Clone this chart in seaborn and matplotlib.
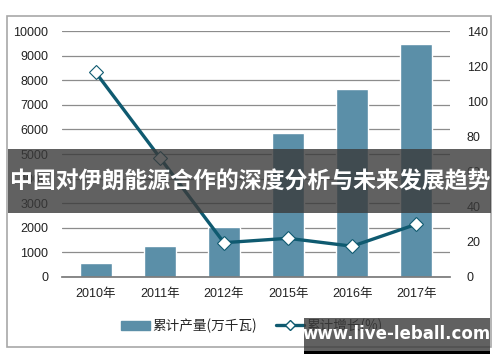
import matplotlib
matplotlib.use("Agg")
import matplotlib.pyplot as plt
import matplotlib.patches as mpatches
from matplotlib.lines import Line2D
import numpy as np
import seaborn as sns

years = ["2010年", "2011年", "2012年", "2015年", "2016年", "2017年"]
capacity = [580, 1270, 2030, 5850, 7640, 9460]   # 累计产量(万千瓦)
growth = [116.5, 68, 19.5, 22, 17.5, 30]         # 累计增长(%)
left_ticks = list(range(0, 10001, 1000))
right_ticks = list(range(0, 141, 20))

title = "中国对伊朗能源合作的深度分析与未来发展趋势"
watermark = "www.live-leball.com"

bar_color = "#5b8fa8"
line_color = "#0f5a70"

sns.set_theme(style="white")
plt.rcParams["font.family"] = ["Liberation Sans", "Noto Sans CJK SC", "DejaVu Sans"]

fig = plt.figure(figsize=(5, 3.62), dpi=100)
ax = fig.add_axes([0.124, 0.235, 0.776, 0.679])

sns.barplot(x=years, y=capacity, color=bar_color, width=0.5, saturation=1, ax=ax, zorder=2)
ax.set_ylim(0, 10000)
ax.set_yticks(left_ticks)
ax.yaxis.grid(True, color="#8c8c8c", linewidth=0.9)
ax.set_axisbelow(True)
for s in ["top", "right", "left"]:
    ax.spines[s].set_visible(False)
ax.spines["bottom"].set_color("#7a7a7a")
ax.tick_params(axis="both", length=0, labelsize=9, colors="#222222")
ax.tick_params(axis="x", pad=8)
ax.tick_params(axis="y", pad=10)
ax.set_xlabel("")

ax2 = ax.twinx()
xpos = np.arange(len(years))
sns.lineplot(x=xpos, y=growth, ax=ax2, color=line_color, linewidth=2.4,
             marker="D", markersize=7, markerfacecolor="white",
             markeredgecolor=line_color, markeredgewidth=0.8, zorder=3)
ax2.set_ylim(0, 140)
ax2.set_yticks(right_ticks)
for s in ax2.spines.values():
    s.set_visible(False)
ax2.tick_params(axis="y", length=0, labelsize=9, colors="#222222", pad=12)
ax2.grid(False)

# legend
handles = [mpatches.Patch(color=bar_color, label="累计产量(万千瓦)"),
           Line2D([0], [0], color=line_color, linewidth=2.4, marker="D", markersize=5,
                  markerfacecolor="white", markeredgecolor=line_color, label="累计增长(%)")]
fig.legend(handles=handles, loc="center", bbox_to_anchor=(0.504, 0.1), ncol=2, frameon=False,
           handlelength=2.1, handletextpad=0.15, columnspacing=1.4,
           prop={"family": ["Noto Sans CJK SC"], "size": 9.8})

# outer border
fig.patches.append(mpatches.Rectangle((0.014, 0.041), 0.968, 0.914, transform=fig.transFigure,
                                      fill=False, edgecolor="#a8a8a8", linewidth=1.2, zorder=0))

# title banner overlay
fig.patches.append(mpatches.Rectangle((0.016, 0.412), 0.966, 0.177, transform=fig.transFigure,
                                      facecolor="#3a3a3a", alpha=0.8, edgecolor="none", zorder=10))
fig.text(0.5, 0.497, title, ha="center", va="center", color="white", fontsize=16.5,
         fontweight="bold", family=["Noto Sans CJK SC"], zorder=11)

# watermark
fig.patches.append(mpatches.Rectangle((0.608, 0.028), 0.372, 0.094, transform=fig.transFigure,
                                      facecolor="#3a3a3a", alpha=0.8, edgecolor="none", zorder=10))
fig.patches.append(mpatches.Rectangle((0.608, 0.022), 0.372, 0.008, transform=fig.transFigure,
                                      facecolor="black", edgecolor="none", zorder=10))
fig.text(0.794, 0.077, watermark, ha="center", va="center", color="white", fontsize=12,
         fontweight="bold", family=["DejaVu Sans"], zorder=11)

fig.savefig("out.png", dpi=100)
